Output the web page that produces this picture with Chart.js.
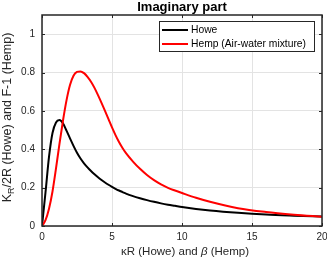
<!DOCTYPE html>
<html>
<head>
<meta charset="utf-8">
<script src="https://cdn.jsdelivr.net/npm/chart.js@4.4.0/dist/chart.umd.min.js"></script>
<style>
  html, body { margin: 0; padding: 0; background: #fff; }
</style>
</head>
<body>
<canvas id="chart" width="327" height="264"></canvas>
<script>
// values
const xValues = [0, 0.25, 0.5, 0.75, 1, 1.25, 1.5, 1.75, 2, 2.25, 2.5, 2.75, 3, 3.25, 3.5, 3.75, 4, 4.25, 4.5, 4.75, 5, 5.25, 5.5, 5.75, 6, 6.5, 7, 7.5, 8, 8.5, 9, 9.5, 10, 11, 12, 14, 16, 18, 20];
const howe = [0, 0.175, 0.36, 0.485, 0.54, 0.552, 0.535, 0.497, 0.457, 0.418, 0.382, 0.352, 0.327, 0.306, 0.287, 0.27, 0.254, 0.24, 0.227, 0.215, 0.204, 0.194, 0.185, 0.177, 0.169, 0.156, 0.145, 0.135, 0.126, 0.118, 0.111, 0.105, 0.099, 0.089, 0.081, 0.069, 0.06, 0.054, 0.049];
const hemp = [0, 0.03, 0.09, 0.18, 0.3, 0.43, 0.55, 0.655, 0.735, 0.783, 0.803, 0.806, 0.797, 0.778, 0.752, 0.72, 0.682, 0.642, 0.6, 0.557, 0.514, 0.474, 0.438, 0.407, 0.38, 0.336, 0.298, 0.266, 0.239, 0.217, 0.199, 0.185, 0.172, 0.147, 0.126, 0.093, 0.073, 0.059, 0.048];
const xTicks = [0, 5, 10, 15, 20];
const yTicks = [0, 0.2, 0.4, 0.6, 0.8, 1];
const seriesNames = ['Howe', 'Hemp (Air-water mixture)'];
const seriesColors = ['#000000', '#ff0000'];

const FONT = '"Liberation Sans", Arial, Helvetica, sans-serif';
const INK = '#262626';

function toPoints(ys) {
    return xValues.map((x, i) => ({ x: x, y: ys[i] }));
}

// frame, inward ticks, titles and legend in the MATLAB look
const decorations = {
    id: 'decorations',
    afterDraw(chart) {
        const ctx = chart.ctx;
        const a = chart.chartArea;
        const xs = chart.scales.x;
        const ys = chart.scales.y;
        ctx.save();

        // box
        ctx.strokeStyle = INK;
        ctx.lineWidth = 1.5;
        ctx.strokeRect(a.left, a.top, a.right - a.left, a.bottom - a.top);

        // inward ticks on all four sides
        ctx.lineWidth = 1;
        ctx.beginPath();
        xTicks.forEach(v => {
            const px = Math.round(xs.getPixelForValue(v)) + 0.5;
            ctx.moveTo(px, a.bottom); ctx.lineTo(px, a.bottom - 3);
            ctx.moveTo(px, a.top); ctx.lineTo(px, a.top + 3);
        });
        yTicks.forEach(v => {
            const py = Math.round(ys.getPixelForValue(v)) + 0.5;
            ctx.moveTo(a.left, py); ctx.lineTo(a.left + 3, py);
            ctx.moveTo(a.right, py); ctx.lineTo(a.right - 3, py);
        });
        ctx.stroke();

        const cx = (a.left + a.right) / 2;
        const cy = (a.top + a.bottom) / 2;

        // title
        ctx.fillStyle = '#000';
        ctx.font = 'bold 13px ' + FONT;
        ctx.textAlign = 'center';
        ctx.textBaseline = 'alphabetic';
        ctx.fillText('Imaginary part', cx, 11);

        // x title with italic beta
        ctx.fillStyle = INK;
        ctx.textBaseline = 'middle';
        const xParts = [
            { t: '\u03BAR (Howe) and ', f: '11.5px ' + FONT },
            { t: '\u03B2', f: 'italic 11.5px ' + FONT },
            { t: ' (Hemp)', f: '11.5px ' + FONT }
        ];
        let w = 0;
        xParts.forEach(p => { ctx.font = p.f; w += ctx.measureText(p.t).width; });
        let xPos = cx - w / 2 + 3;
        ctx.textAlign = 'left';
        xParts.forEach(p => {
            ctx.font = p.f;
            ctx.fillText(p.t, xPos, 252);
            xPos += ctx.measureText(p.t).width;
        });

        // y title with subscript R
        ctx.save();
        ctx.translate(8, cy - 3);
        ctx.rotate(-Math.PI / 2);
        const yParts = [
            { t: 'K', f: '12.5px ' + FONT, dy: 0 },
            { t: 'R', f: '9px ' + FONT, dy: 4 },
            { t: '/2R (Howe) and F-1 (Hemp)', f: '12.5px ' + FONT, dy: 0 }
        ];
        w = 0;
        yParts.forEach(p => { ctx.font = p.f; w += ctx.measureText(p.t).width; });
        xPos = -w / 2;
        yParts.forEach(p => {
            ctx.font = p.f;
            ctx.fillText(p.t, xPos, p.dy);
            xPos += ctx.measureText(p.t).width;
        });
        ctx.restore();

        // legend box
        const lx = 159.5, ly = 21.5, lw = 155, lh = 30;
        ctx.fillStyle = '#fff';
        ctx.fillRect(lx, ly, lw, lh);
        ctx.strokeStyle = INK;
        ctx.lineWidth = 1;
        ctx.strokeRect(lx, ly, lw, lh);
        ctx.font = '10.3px ' + FONT;
        ctx.textAlign = 'left';
        ctx.textBaseline = 'middle';
        seriesNames.forEach((name, i) => {
            const rowY = 30 + i * 14;
            ctx.strokeStyle = seriesColors[i];
            ctx.lineWidth = 2;
            ctx.beginPath();
            ctx.moveTo(162, rowY);
            ctx.lineTo(188, rowY);
            ctx.stroke();
            ctx.fillStyle = '#000';
            ctx.fillText(name, 191, rowY);
        });

        ctx.restore();
    }
};

new Chart(document.getElementById('chart'), {
    type: 'line',
    data: {
        datasets: [
            {
                label: seriesNames[0],
                data: toPoints(howe),
                borderColor: seriesColors[0],
                borderWidth: 2,
                pointRadius: 0,
                cubicInterpolationMode: 'monotone',
                fill: false,
                order: 1
            },
            {
                label: seriesNames[1],
                data: toPoints(hemp),
                borderColor: seriesColors[1],
                borderWidth: 2,
                pointRadius: 0,
                cubicInterpolationMode: 'monotone',
                fill: false,
                order: 0
            }
        ]
    },
    options: {
        responsive: false,
        animation: false,
        devicePixelRatio: 1,
        layout: { padding: { top: 15, right: 5, left: 0, bottom: 0 } },
        plugins: {
            legend: { display: false },
            title: { display: false },
            tooltip: { enabled: false }
        },
        scales: {
            x: {
                type: 'linear',
                min: 0,
                max: 20,
                afterBuildTicks: scale => { scale.ticks = xTicks.map(v => ({ value: v })); },
                afterFit: scale => {
                    scale.height = 38;
                    scale.paddingLeft = 0;
                    scale.paddingRight = 0;
                },
                ticks: { color: INK, font: { family: FONT, size: 10 }, padding: 5, maxRotation: 0 },
                grid: { color: '#e3e3e3', drawTicks: false },
                border: { display: false }
            },
            y: {
                type: 'linear',
                min: 0,
                max: 1.1,
                afterBuildTicks: scale => { scale.ticks = yTicks.map(v => ({ value: v })); },
                afterFit: scale => {
                    scale.width = 42;
                    scale.paddingTop = 0;
                    scale.paddingBottom = 0;
                },
                ticks: {
                    color: INK,
                    font: { family: FONT, size: 10 },
                    padding: 7,
                    callback: v => String(v)
                },
                grid: { color: '#e3e3e3', drawTicks: false },
                border: { display: false }
            }
        }
    },
    plugins: [decorations]
});
</script>
</body>
</html>
